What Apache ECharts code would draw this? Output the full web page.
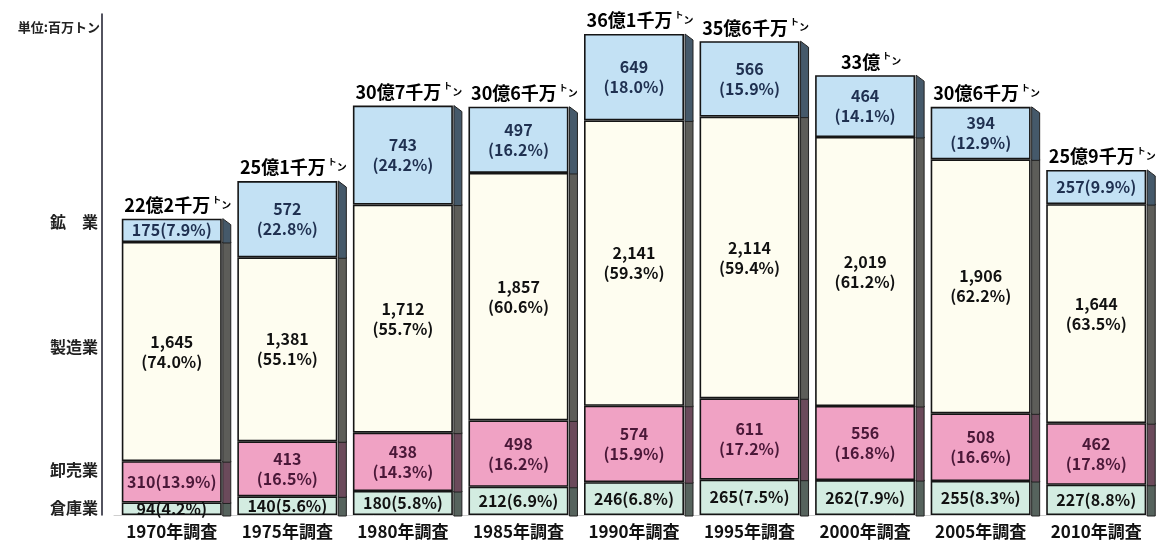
<!DOCTYPE html>
<html>
<head>
<meta charset="utf-8">
<script src="https://cdn.jsdelivr.net/npm/echarts@6/dist/echarts.min.js"></script>
<style>
  html, body { margin: 0; padding: 0; background: #fff; }
  #chart { width: 1166px; height: 546px; }
</style>
</head>
<body>
<div id="chart"></div>
<script>
// 調査年
const categories = ['1970年調査', '1975年調査', '1980年調査', '1985年調査', '1990年調査',
  '1995年調査', '2000年調査', '2005年調査', '2010年調査'];

// 単位: 百万トン (下から積み上げ)
const warehouse = [94, 140, 180, 212, 246, 265, 262, 255, 227];
const warehousePct = [4.2, 5.6, 5.8, 6.9, 6.8, 7.5, 7.9, 8.3, 8.8];
const wholesale = [310, 413, 438, 498, 574, 611, 556, 508, 462];
const wholesalePct = [13.9, 16.5, 14.3, 16.2, 15.9, 17.2, 16.8, 16.6, 17.8];
const manufacturing = [1645, 1381, 1712, 1857, 2141, 2114, 2019, 1906, 1644];
const manufacturingPct = [74.0, 55.1, 55.7, 60.6, 59.3, 59.4, 61.2, 62.2, 63.5];
const mining = [175, 572, 743, 497, 649, 566, 464, 394, 257];
const miningPct = [7.9, 22.8, 24.2, 16.2, 18.0, 15.9, 14.1, 12.9, 9.9];

// 合計ラベル
const totals = ['22億2千万', '25億1千万', '30億7千万', '30億6千万', '36億1千万',
  '35億6千万', '33億', '30億6千万', '25億9千万'];

const FONT = '"Noto Sans CJK JP", "Noto Sans", sans-serif';
const BAR_W = 100;
const SIDE_W = 8;

const fmt = (v) => String(v).replace(/\B(?=(\d{3})+(?!\d))/g, ',');

function segLabel(pcts, color) {
  return {
    show: true,
    position: 'inside',
    fontFamily: FONT,
    fontSize: 16,
    fontWeight: 'bold',
    lineHeight: 20,
    color: color,
    formatter(p) {
      const pct = pcts[p.dataIndex].toFixed(1);
      return p.value < 350 ? `${fmt(p.value)}(${pct}%)` : `${fmt(p.value)}\n(${pct}%)`;
    },
  };
}

const segments = [
  { name: '倉庫業', data: warehouse, pct: warehousePct, color: '#d3ece1', side: '#56635d', text: '#111' },
  { name: '卸売業', data: wholesale, pct: wholesalePct, color: '#f0a2c4', side: '#6b4a5b', text: '#4a1838' },
  { name: '製造業', data: manufacturing, pct: manufacturingPct, color: '#fefdf0', side: '#5d5d59', text: '#111' },
  { name: '鉱業', data: mining, pct: miningPct, color: '#c3e1f4', side: '#45596a', text: '#1f3050' },
];

const sideData = categories.map((c, i) => [i, warehouse[i], wholesale[i], manufacturing[i], mining[i]]);

// 立体の側面と合計ラベル
function renderSide(params, api) {
  const i = api.value(0);
  const children = [];
  let cum = 0;
  let topY = 0;
  let cx = 0;
  for (let k = 0; k < 4; k++) {
    const bottom = api.coord([i, cum]);
    cum += api.value(k + 1);
    const top = api.coord([i, cum]);
    cx = top[0];
    const x = cx + BAR_W / 2 + 1;
    const bevel = k === 3 ? 6 : 0;
    children.push({
      type: 'polygon',
      shape: { points: [[x, top[1]], [x + SIDE_W, top[1] + bevel], [x + SIDE_W, bottom[1] + 1], [x, bottom[1] + 1]] },
      style: { fill: segments[k].side, stroke: '#222', lineWidth: 1 },
    });
    topY = top[1];
  }
  children.push({
    type: 'text',
    x: cx + 6,
    y: topY - 3,
    style: {
      text: `{a|${totals[i]}}{t|ト}{n|ン}`,
      align: 'center',
      verticalAlign: 'bottom',
      rich: {
        a: { fontFamily: FONT, fontSize: 18, fontWeight: 'bold', color: '#111', lineHeight: 21 },
        t: { fontFamily: FONT, fontSize: 9, fontWeight: 'bold', color: '#111', verticalAlign: 'top', padding: [0, 0, 0, 2] },
        n: { fontFamily: FONT, fontSize: 10, fontWeight: 'bold', color: '#111', verticalAlign: 'middle' },
      },
    },
  });
  return { type: 'group', children };
}

const sideLabel = (text, y) => ({
  type: 'text', x: 98, y: y,
  style: { text: text, align: 'right', verticalAlign: 'middle', fontFamily: FONT, fontSize: 16, fontWeight: 'bold', fill: '#222' },
});

const chart = echarts.init(document.getElementById('chart'), null, { renderer: 'canvas' });

chart.setOption({
  animation: false,
  grid: { top: 14, bottom: 31, left: 114, right: 12 },
  xAxis: {
    type: 'category',
    data: categories,
    axisLine: { lineStyle: { color: '#cfcfcf', width: 1 } },
    axisTick: { show: false },
    axisLabel: { color: '#111', fontFamily: FONT, fontSize: 17, fontWeight: 'bold', margin: 8, interval: 0 },
  },
  yAxis: {
    type: 'value',
    min: 0,
    max: 3760,
    offset: 12,
    axisLine: { show: true, lineStyle: { color: '#1a1a2a', width: 1.5 } },
    axisTick: { show: false },
    axisLabel: { show: false },
    splitLine: { show: false },
  },
  graphic: [
    { type: 'text', x: 100, y: 27, style: { text: '単位:百万トン', align: 'right', verticalAlign: 'middle', fontFamily: FONT, fontSize: 13, fontWeight: 'bold', fill: '#222' } },
    sideLabel('鉱　業', 222),
    sideLabel('製造業', 347),
    sideLabel('卸売業', 470),
    sideLabel('倉庫業', 508),
  ],
  series: [
    ...segments.map((s) => ({
      name: s.name,
      type: 'bar',
      stack: 'total',
      barWidth: BAR_W,
      z: 3,
      data: s.data,
      itemStyle: { color: s.color, borderColor: '#151515', borderWidth: 1.6 },
      label: segLabel(s.pct, s.text),
    })),
    {
      type: 'custom',
      renderItem: renderSide,
      data: sideData,
      encode: { x: 0, y: [1, 2, 3, 4] },
      z: 2,
      silent: true,
    },
  ],
});
</script>
</body>
</html>
